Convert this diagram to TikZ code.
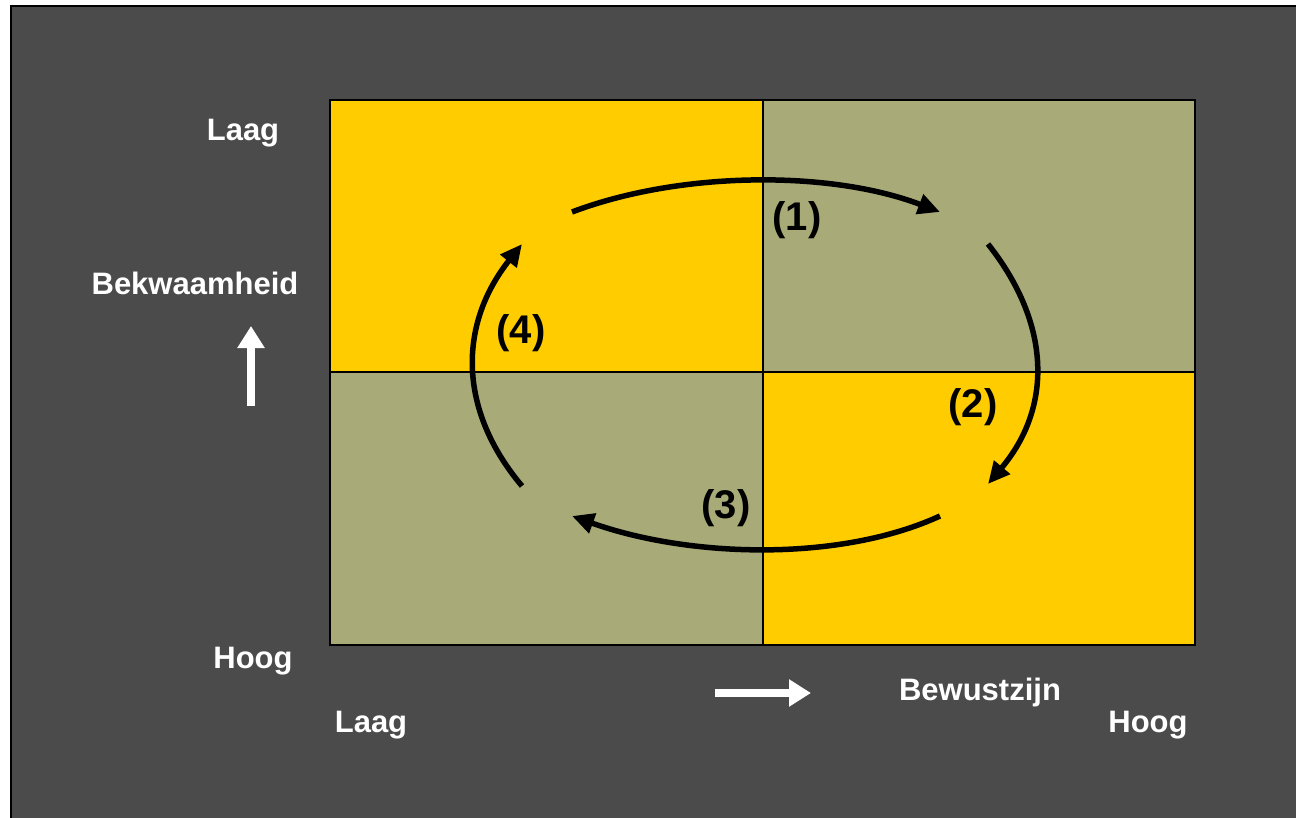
\documentclass[tikz,border=0pt]{standalone}
\usepackage{fontspec}
\setmainfont{Liberation Sans}
\usetikzlibrary{arrows.meta}
\definecolor{panel}{HTML}{4B4B4B}
\definecolor{gold}{HTML}{FFCC00}
\definecolor{olive}{HTML}{A8AA78}
\tikzset{
  lbl/.style={text=white, font=\bfseries\fontsize{31}{36}\selectfont, inner sep=0pt},
  num/.style={text=black, font=\bfseries\fontsize{40}{46}\selectfont, inner sep=0pt},
  cycle/.style={line width=5.5pt, -{Triangle[length=22pt,width=20pt]}},
  axis/.style={white, line width=8pt, -{Triangle[length=22pt,width=26pt]}},
  cell/.style={draw=black, line width=2pt}
}
\begin{document}
\begin{tikzpicture}[x=1pt,y=-1pt]
\useasboundingbox (0,0) rectangle (1296,817);
\fill[white] (0,0) rectangle (1296,817);
\fill[panel] (11,6) rectangle (1310,830);
\draw[black, line width=2.5pt] (11,830) -- (11,6) -- (1310,6);
% quadrants
\fill[gold]  (330,100) rectangle (763,372);
\fill[olive] (763,100) rectangle (1195,372);
\fill[olive] (330,372) rectangle (763,645);
\fill[gold]  (763,372) rectangle (1195,645);
\draw[cell] (330,100) rectangle (1195,645);
\draw[cell] (763,100) -- (763,645);
\draw[cell] (330,372) -- (1195,372);
% cycle arrows
\coordinate (a1s) at (572,212); \coordinate (a1e) at (940,212);
\coordinate (a2s) at (988,244); \coordinate (a2e) at (988,484);
\coordinate (a3s) at (940,516); \coordinate (a3e) at (572,516);
\coordinate (a4s) at (522,486); \coordinate (a4e) at (522,244);
\draw[cycle] (a1s) .. controls (680,171) and (830,170) .. (a1e);
\draw[cycle] (a2s) .. controls (1052,325) and (1052,408) .. (a2e);
\draw[cycle] (a3s) .. controls (840,562) and (690,558) .. (a3e);
\draw[cycle] (a4s) .. controls (458,410) and (458,325) .. (a4e);
\node[num] (n1) at (797,220) {(1)};
\node[num] (n2) at (973,407) {(2)};
\node[num] (n3) at (726,508) {(3)};
\node[num] (n4) at (521,333) {(4)};
% axis labels
\node[lbl] (ylow) at (243,133) {Laag};
\node[lbl] (yname) at (195,283) {Bekwaamheid};
\node[lbl] (yhigh) at (253,661) {Hoog};
\node[lbl] (xlow) at (371,725) {Laag};
\node[lbl] (xname) at (980,692) {Bewustzijn};
\node[lbl] (xhigh) at (1148,725) {Hoog};
\coordinate (upa) at (251,406); \coordinate (upb) at (251,326);
\coordinate (ra) at (715,693); \coordinate (rb) at (811,693);
\draw[axis] (upa) -- (upb);
\draw[axis] (ra) -- (rb);
\end{tikzpicture}
\end{document}
